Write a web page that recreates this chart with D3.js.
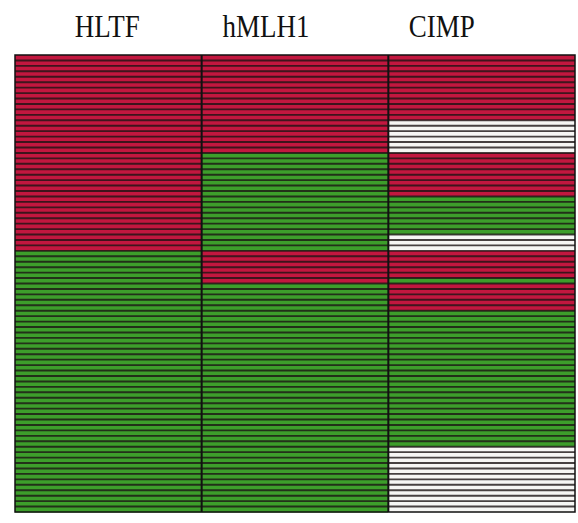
<!DOCTYPE html>
<html>
<head>
<meta charset="utf-8">
<script src="https://cdn.jsdelivr.net/npm/d3@7"></script>
<style>
  html, body { margin: 0; padding: 0; background: #fff; }
  svg { display: block; }
</style>
</head>
<body>
<svg id="chart" width="578" height="523"></svg>
<script>
// Methylation status per marker, listed as consecutive runs of samples (top to bottom).
// M = methylated, U = unmethylated, N = not determined.
const markers = ["HLTF", "hMLH1", "CIMP"];
const hltfRuns  = [["M", 36], ["U", 48]];
const hmlh1Runs = [["M", 18], ["U", 18], ["M", 6], ["U", 42]];
const cimpRuns  = [["M", 12], ["N", 6], ["M", 8], ["U", 7], ["N", 3], ["M", 5], ["U", 1], ["M", 5], ["U", 25], ["N", 12]];
const statusCodes = ["M", "U", "N"];

const runsByMarker = { HLTF: hltfRuns, hMLH1: hmlh1Runs, CIMP: cimpRuns };

function expand(runs) {
  const out = [];
  runs.forEach(([s, n]) => { for (let i = 0; i < n; i++) out.push(s); });
  return out;
}

const cells = [];
markers.forEach(m => {
  expand(runsByMarker[m]).forEach((s, i) => cells.push({ marker: m, row: i, status: s }));
});
const nRows = d3.max(markers, m => expand(runsByMarker[m]).length);

const margin = { left: 15, top: 55, right: 3, bottom: 11 };
const W = 578, H = 523;
const svg = d3.select("#chart");

const x = d3.scaleBand().domain(markers).range([margin.left, W - margin.right]).padding(0);
const y = d3.scaleBand().domain(d3.range(nRows)).range([margin.top, H - margin.bottom]).padding(0);
const color = d3.scaleOrdinal().domain(statusCodes).range(["#c2173f", "#3d9e2b", "#f6f6f4"]);

// cells
svg.append("g").selectAll("rect")
  .data(cells)
  .join("rect")
  .attr("x", d => x(d.marker))
  .attr("y", d => y(d.row))
  .attr("width", x.bandwidth())
  .attr("height", y.bandwidth() + 0.5)
  .attr("fill", d => color(d.status));

// thin dark rules between samples
svg.append("g").selectAll("line")
  .data(d3.range(1, nRows))
  .join("line")
  .attr("x1", margin.left).attr("x2", W - margin.right)
  .attr("y1", d => y(d)).attr("y2", d => y(d))
  .attr("stroke", "#1c1414")
  .attr("stroke-opacity", 0.8)
  .attr("stroke-width", 1.9);

// column dividers and frame
svg.append("g").selectAll("line")
  .data(markers.slice(1))
  .join("line")
  .attr("x1", d => x(d)).attr("x2", d => x(d))
  .attr("y1", margin.top).attr("y2", H - margin.bottom)
  .attr("stroke", "#111").attr("stroke-width", 2);

svg.append("rect")
  .attr("x", margin.left).attr("y", margin.top)
  .attr("width", W - margin.right - margin.left)
  .attr("height", H - margin.bottom - margin.top)
  .attr("fill", "none").attr("stroke", "#111").attr("stroke-width", 1.5);

// headers
const headerShift = { HLTF: -1, hMLH1: -29, CIMP: -40 };
svg.append("g").selectAll("text")
  .data(markers)
  .join("text")
  .attr("transform", d => `translate(${x(d) + x.bandwidth() / 2 + headerShift[d]},37) scale(1,1.15)`)
  .attr("text-anchor", "middle")
  .attr("font-family", "'Liberation Serif', 'DejaVu Serif', serif")
  .attr("font-size", 27)
  .attr("fill", "#111")
  .text(d => d);
</script>
</body>
</html>
